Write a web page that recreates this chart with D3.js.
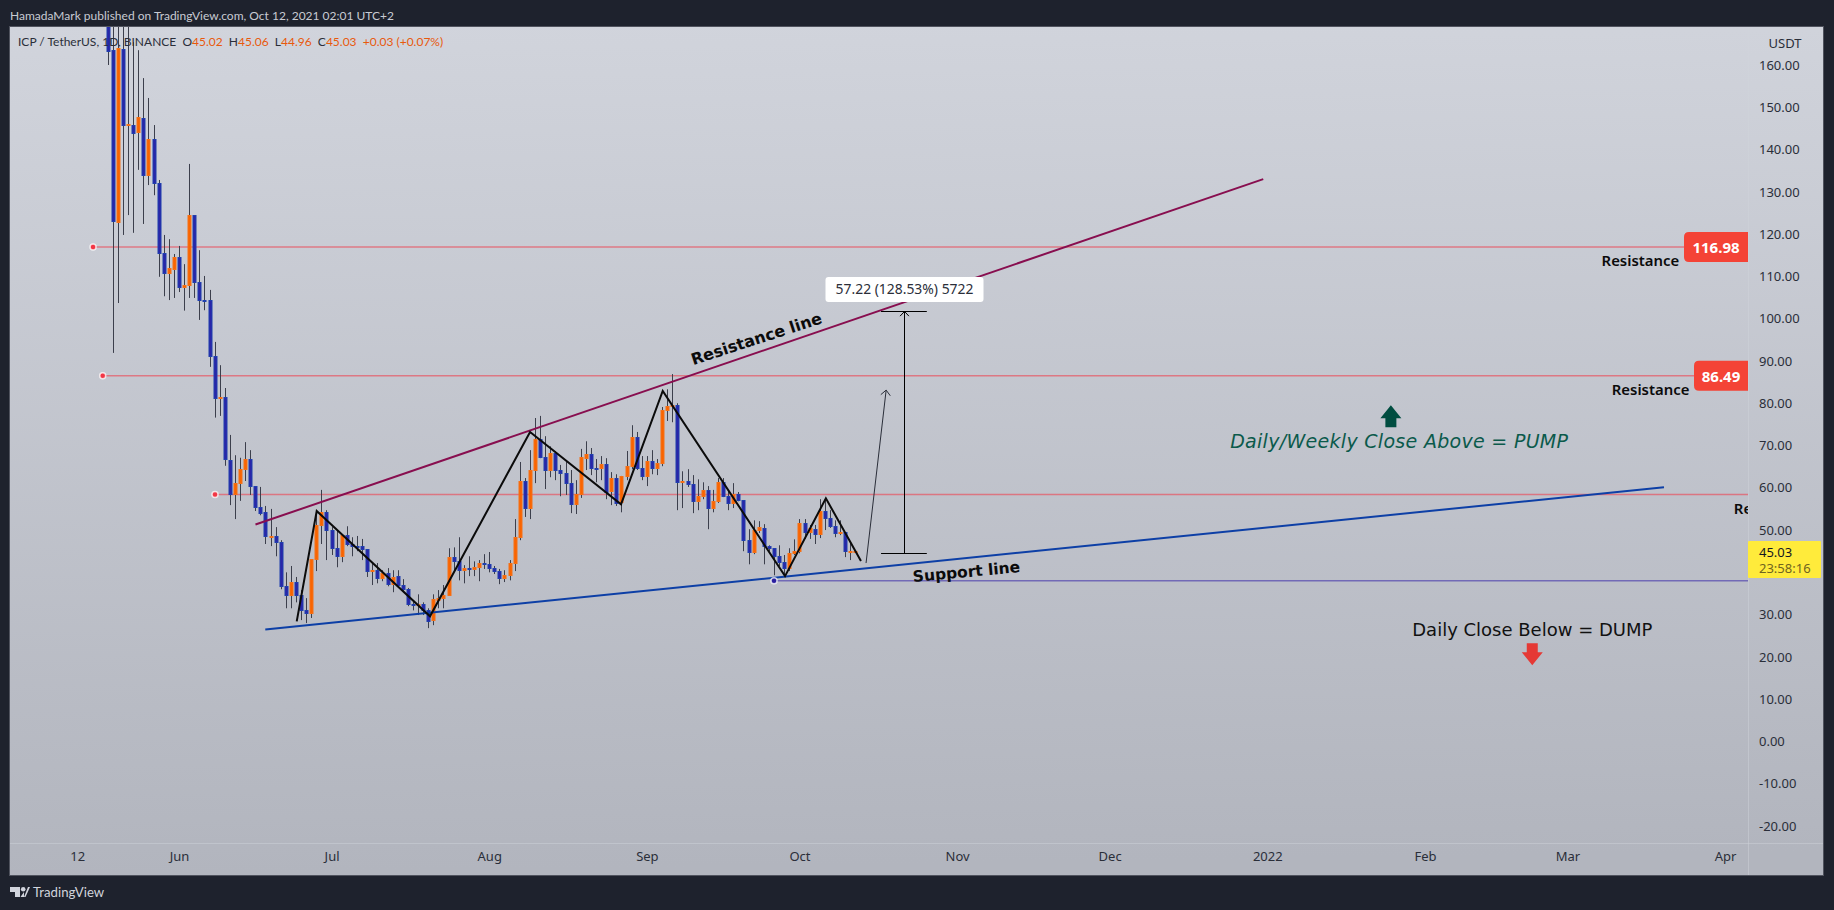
<!DOCTYPE html>
<html><head><meta charset="utf-8">
<script src="https://cdn.jsdelivr.net/npm/d3@7"></script>
<style>html,body{margin:0;padding:0;background:#1e222d;overflow:hidden}svg{display:block}</style>
</head><body><svg id="c" width="1834" height="910"></svg>
<script>
// ---- data ----
const firstCandle = "2021-05-18";
const opens = [190,163.5,122.7,163.8,145.6,145.8,143.7,147.5,133.7,142.5,
132.1,115.5,110.6,111.5,114.6,107.2,107.7,124.5,108.6,104.4,
104.4,91.2,81.0,81.4,66.5,58.3,60.9,64.2,66.8,60.4,
55.4,54.2,48.3,48.6,47.1,36.7,34.4,37.7,34.6,31.0,
30.1,42.9,50.9,54.2,50.0,45.7,43.6,48.8,46.7,46.2,
46.2,45.5,40.0,40.5,38.4,39.8,37.0,39.1,37.0,36.0,
32.5,32.0,32.5,31.0,28.4,33.2,33.6,34.4,43.6,42.6,
40.3,41.0,40.5,41.0,42.2,41.9,41.0,40.3,38.4,39.1,
41.9,48.1,61.6,55.0,63.9,71.5,67.3,63.9,68.2,64.2,
63.5,61.1,55.9,58.3,66.8,68.0,64.7,64.4,65.6,59.0,
62.3,56.4,62.5,64.9,72.0,64.7,62.5,66.3,64.4,65.6,
78.1,79.1,79.6,61.1,61.6,60.9,56.6,57.8,59.5,55.0,
56.6,61.3,58.0,56.1,58.5,57.1,47.6,44.5,49.8,50.5,
46.2,45.7,43.8,42.4,40.8,44.3,44.8,51.6,49.3,50.2,
48.8,54.5,52.8,51.0,49.1,49.5,44.8,45.02];
const highs = [210,200,190,190,175,165.4,163.5,156.9,152.2,145.8,
132.8,119.8,118.8,115.3,117.2,112.9,136.6,124.5,116.2,110.1,
106.8,94.5,89.0,83.6,72.5,67.7,67.1,70.8,68.9,60.4,
60.2,55.7,55.0,50.7,47.6,40.0,41.5,38.9,35.8,33.9,
43.1,54.7,59.5,54.7,50.7,49.8,48.8,50.9,48.3,48.6,
47.9,45.5,42.4,42.2,40.5,41.0,40.5,40.5,38.4,36.3,
33.4,34.8,32.9,31.5,34.8,35.8,37.0,45.7,45.9,48.3,
41.7,43.8,42.6,42.9,44.3,44.8,41.5,40.8,40.5,42.9,
52.6,66.1,62.3,68.9,76.5,77.0,72.2,69.8,68.7,65.4,
66.1,64.2,61.8,69.2,71.0,69.4,66.8,67.5,67.0,63.7,
63.2,62.8,68.7,74.8,73.2,67.5,67.5,68.9,66.8,79.1,
83.3,86.9,80.0,63.9,64.4,63.0,62.0,61.3,60.4,59.5,
62.3,62.3,59.5,61.1,59.0,57.1,50.2,52.3,52.1,51.4,
46.4,45.7,46.4,44.1,45.7,47.8,52.6,52.6,51.2,51.2,
57.3,57.3,54.7,52.3,52.3,49.5,47.1,45.06];
const lows = [160.0,91.9,103.7,119.8,124.5,120.3,135.2,122.4,131.6,129.2,
109.9,105.3,104.4,104.9,106.3,101.9,104.9,104.9,99.7,102.0,
88.6,76.6,77.0,65.2,55.9,52.6,56.9,61.6,58.3,54.5,
53.5,46.7,46.2,43.8,36.0,31.5,31.5,32.9,28.7,28.0,
29.2,40.3,46.7,42.9,44.1,41.2,42.4,46.2,43.8,45.0,
42.9,38.9,37.0,37.4,37.9,36.7,35.3,36.5,35.6,32.0,
31.0,29.9,29.9,26.8,27.5,31.5,31.5,34.4,40.5,38.1,
37.4,39.1,39.1,37.9,40.8,40.0,39.6,37.2,37.7,38.1,
40.3,47.6,53.1,52.6,61.1,67.0,59.7,62.5,61.8,58.0,
58.3,54.0,53.8,57.6,64.2,63.0,61.3,61.8,57.3,55.9,
55.7,54.2,61.8,64.4,64.2,61.8,60.4,63.2,63.0,65.1,
75.8,75.5,54.7,55.2,60.2,54.0,54.7,57.3,50.2,54.2,
56.4,57.8,54.7,55.2,56.8,45.0,41.9,44.3,49.3,41.9,
45.0,39.3,41.5,39.3,40.3,44.1,44.5,47.9,47.9,46.7,
48.1,50.0,50.5,48.3,48.8,43.6,42.9,44.96];
const closes = [163.1,122.7,164.0,145.6,146.0,143.7,147.6,133.7,142.5,131.8,
115.3,110.6,112.0,114.6,107.2,107.9,124.5,108.4,104.2,104.2,
91.0,81.0,81.4,66.4,58.3,61.1,64.4,66.8,60.2,55.2,
53.8,48.3,48.6,46.9,36.5,34.4,37.7,34.4,30.8,30.1,
43.1,51.2,54.2,49.8,45.5,43.6,48.8,46.4,45.9,45.9,
45.2,40.0,40.5,38.4,39.8,37.0,38.9,36.7,35.8,32.2,
32.0,32.5,30.8,28.2,33.6,33.9,34.6,43.6,42.4,40.3,
41.0,40.5,41.2,42.2,41.7,40.8,40.0,38.4,39.3,42.2,
48.3,61.6,55.0,64.2,71.5,67.0,63.9,68.2,63.9,63.2,
60.9,55.9,58.5,67.3,68.0,64.4,64.4,65.6,58.7,62.3,
56.1,62.8,65.1,72.0,64.4,62.5,66.3,64.4,65.8,78.4,
79.3,79.6,61.1,61.6,60.6,56.6,58.0,59.5,55.0,56.8,
61.3,57.8,56.1,58.5,56.8,47.4,44.5,50.0,50.7,46.0,
45.5,43.6,42.2,40.8,44.5,45.0,51.6,49.3,50.5,48.8,
54.5,52.6,50.7,49.1,49.5,44.8,45.0,45.03];

const priceTicks = [160,150,140,130,120,110,100,90,80,70,60,50,30,20,10,0,-10,-20];
const timeTicks = ["2021-05-12","2021-06-01","2021-07-01","2021-08-01","2021-09-01","2021-10-01","2021-11-01","2021-12-01","2022-01-01","2022-02-01","2022-03-01","2022-04-01"];
const timeLabels = ["12","Jun","Jul","Aug","Sep","Oct","Nov","Dec","2022","Feb","Mar","Apr"];

// drawings: [days after 2021-06-01, price]
const resistanceTrend = [[15.04,51.3],[213.2,133.0]];
const supportTrend = [[16.97,26.5],[292.0,60.15]];
const zigzag = [[23.15,28.4],[27.08,54.5],[49.36,29.6],[69.03,73.2],[86.92,56.1],[95.12,82.9],[119.17,39.1],[127.2,57.5],[134.1,42.7]];
const projection = [[135.1,42.2],[139.05,83.1]];
const measure = {day:142.6, from:44.5, to:101.72, d0:138.05, d1:147.05};
const levels = [
 {day:-16.9, price:116.98, tag:"116.98", label:"Resistance", labelEndDay:295},
 {day:-15.0, price:86.49, tag:"86.49", label:"Resistance", labelEndDay:297},
 {day:7.08, price:58.4, tag:null, label:"Resistance", labelEndDay:321}
];
const supportLevel = {day:117.0, price:38.0};

// ---- layout ----
const F = {l:10,t:27,r:1823,b:875,axisX:1748,axisY:843};
const svg = d3.select("#c");
const base = Date.UTC(2021,5,1);
const dayDate = d => new Date(base + d*864e5);
const x = d3.scaleUtc().domain([new Date("2021-06-01"),new Date("2022-04-01")]).range([179,1725]);
const y = d3.scaleLinear().domain([160,-20]).range([65,826]);
const px = d => x(dayDate(d));
const line = d3.line().x(p=>px(p[0])).y(p=>y(p[1]));

const defs = svg.append("defs");
const grad = defs.append("linearGradient").attr("id","bg").attr("x1",0).attr("x2",0.03).attr("y1",0).attr("y2",1);
grad.append("stop").attr("offset",0).attr("stop-color","#d1d4dc");
grad.append("stop").attr("offset",1).attr("stop-color","#b2b5be");
defs.append("clipPath").attr("id","pane").append("rect").attr("x",F.l).attr("y",F.t).attr("width",F.axisX-F.l).attr("height",F.axisY-F.t);

svg.append("rect").attr("width",1834).attr("height",910).attr("fill","#1e222d");
svg.append("rect").attr("x",F.l-.5).attr("y",F.t-.5).attr("width",F.r-F.l+1).attr("height",F.b-F.t+1)
  .attr("fill","url(#bg)").attr("stroke","#50535e").attr("stroke-width",1);
svg.append("line").attr("x1",F.axisX+.5).attr("x2",F.axisX+.5).attr("y1",F.t).attr("y2",F.b).attr("stroke","#d1d4dc").attr("stroke-opacity",.45);
svg.append("line").attr("x1",F.l).attr("x2",F.r).attr("y1",F.axisY+.5).attr("y2",F.axisY+.5).attr("stroke","#d1d4dc").attr("stroke-opacity",.45);

const UI = "'Noto Sans',sans-serif", LT = "Lato,sans-serif", DV = "'DejaVu Sans',sans-serif";
svg.append("text").attr("x",10).attr("y",20).attr("font-family",LT).attr("font-size",12).attr("fill","#c8cbd3")
  .text("HamadaMark published on TradingView.com, Oct 12, 2021 02:01 UTC+2");

const pane = svg.append("g").attr("clip-path","url(#pane)");

// horizontal levels
const levelG = pane.append("g");
levelG.selectAll("line").data(levels).join("line")
  .attr("x1",d=>px(d.day)).attr("x2",F.axisX).attr("y1",d=>y(d.price)).attr("y2",d=>y(d.price))
  .attr("stroke","#f23645").attr("stroke-opacity",.55).attr("stroke-width",1.5);
levelG.append("line").attr("x1",px(supportLevel.day)).attr("x2",F.axisX).attr("y1",y(supportLevel.price)).attr("y2",y(supportLevel.price))
  .attr("stroke","#5a4db0").attr("stroke-opacity",.75).attr("stroke-width",1.5);

// candles
const candles = opens.map((o,i)=>({date:d3.utcDay.offset(new Date(firstCandle),i),o,h:highs[i],l:lows[i],c:closes[i]}));
const cg = pane.selectAll("g.k").data(candles).join("g").attr("class","k");
cg.append("line").attr("x1",d=>Math.round(x(d.date))+.5).attr("x2",d=>Math.round(x(d.date))+.5)
  .attr("y1",d=>y(d.h)).attr("y2",d=>y(d.l)).attr("stroke","#3c3f4c").attr("stroke-width",1);
cg.append("rect").attr("x",d=>Math.round(x(d.date))-1).attr("width",3)
  .attr("y",d=>Math.round(y(Math.max(d.o,d.c)))+.5)
  .attr("height",d=>Math.max(1,Math.round(Math.abs(y(d.o)-y(d.c)))-1))
  .attr("fill",d=>d.c>=d.o?"#f96400":"#2a25a8")
  .attr("stroke",d=>d.c>=d.o?"#f57016":"#1f3fae").attr("stroke-width",1);

// trend lines
pane.append("path").attr("d",line(resistanceTrend)).attr("fill","none").attr("stroke","#880e4f").attr("stroke-width",2);
pane.append("path").attr("d",line(supportTrend)).attr("fill","none").attr("stroke","#0d3fa6").attr("stroke-width",2);
pane.append("path").attr("d",line(zigzag)).attr("fill","none").attr("stroke","#0b0b0b").attr("stroke-width",2).attr("stroke-linejoin","miter");
pane.append("path").attr("d",line(projection)).attr("fill","none").attr("stroke","#2a2e39").attr("stroke-width",1);

function chevron(g,tx,ty,fx,fy,len,col){
  const a=Math.atan2(fy-ty,fx-tx), s=.75;
  g.append("path").attr("d",`M${tx+len*Math.cos(a+s)},${ty+len*Math.sin(a+s)}L${tx},${ty}L${tx+len*Math.cos(a-s)},${ty+len*Math.sin(a-s)}`)
   .attr("fill","none").attr("stroke",col).attr("stroke-width",1);
}
chevron(pane,px(projection[1][0]),y(projection[1][1]),px(projection[0][0]),y(projection[0][1]),7,"#2a2e39");

// measure tool
const mx=Math.round(px(measure.day))+.5;
pane.append("line").attr("x1",mx).attr("x2",mx).attr("y1",y(measure.from)).attr("y2",y(measure.to)).attr("stroke","#000").attr("stroke-width",1);
[measure.from,measure.to].forEach(v=>pane.append("line").attr("x1",px(measure.d0)).attr("x2",px(measure.d1))
  .attr("y1",Math.round(y(v))+.5).attr("y2",Math.round(y(v))+.5).attr("stroke","#000").attr("stroke-width",1));
chevron(pane,mx,y(measure.to),mx,y(measure.from),6.5,"#000");
pane.append("rect").attr("x",mx-79).attr("y",y(measure.to)-34.5).attr("width",158).attr("height",25).attr("rx",3).attr("fill","#fff");
pane.append("text").attr("x",mx).attr("y",y(measure.to)-17).attr("text-anchor","middle").attr("font-family",UI).attr("font-size",13.9).attr("fill","#2a2e39")
  .text("57.22 (128.53%) 5722");

// anchor dots
const dots = levels.map(d=>({day:d.day,price:d.price,c:"#f23645"})).concat([{...supportLevel,c:"#2a1fa0"}]);
pane.selectAll("circle.h").data(dots).join("circle").attr("class","h").attr("cx",d=>px(d.day)).attr("cy",d=>y(d.price)).attr("r",3)
  .attr("fill",d=>d.c).attr("stroke","#fff").attr("stroke-opacity",.75).attr("stroke-width",1.5);

// annotation texts
pane.selectAll("text.res").data(levels).join("text").attr("class","res")
  .attr("x",d=>px(d.labelEndDay)).attr("y",d=>y(d.price)+19).attr("text-anchor","end")
  .attr("font-family",UI).attr("font-size",14.9).attr("font-weight",600).attr("fill","#0b0b0b").text(d=>d.label);

const rot=(xx,yy,a)=>`translate(${xx},${yy}) rotate(${a})`;
pane.append("text").attr("transform",rot(px(101.1),y(89.0),-18)).attr("font-family",DV).attr("font-size",16).attr("font-weight",700).attr("fill","#0b0b0b").text("Resistance line");
pane.append("text").attr("transform",rot(px(144.4),y(37.7),-5.3)).attr("font-family",DV).attr("font-size",15.5).attr("font-weight",700).attr("fill","#0b0b0b").text("Support line");
pane.append("text").attr("x",px(206.7)).attr("y",y(69.5)).attr("font-family",DV).attr("font-size",19).attr("letter-spacing",.3).attr("font-style","italic").attr("fill","#0b5a4b").text("Daily/Weekly Close Above = PUMP");
pane.append("text").attr("x",px(242.5)).attr("y",y(24.9)).attr("font-family",DV).attr("font-size",18).attr("fill","#111").text("Daily Close Below = DUMP");

function bigArrow(cx,tipY,dir,col){
  const w=10.5,s=5.5,h=13*dir,t=22*dir;
  pane.append("path").attr("d",`M${cx},${tipY}L${cx+w},${tipY+h}L${cx+s},${tipY+h}L${cx+s},${tipY+t}L${cx-s},${tipY+t}L${cx-s},${tipY+h}L${cx-w},${tipY+h}Z`).attr("fill",col);
}
bigArrow(px(238.3),y(79.5),1,"#004d40");
bigArrow(px(266.1),y(18),-1,"#e53935");

// price tags
const tags = levels.filter(d=>d.tag);
const tagW = d=>d.tag.length>5?64:54;
svg.selectAll("path.tag").data(tags).join("path").attr("class","tag")
  .attr("d",d=>{const r=5,x1=F.axisX,x0=x1-tagW(d),y0=y(d.price)-15,y1=y(d.price)+15;
    return `M${x1},${y0}H${x0+r}Q${x0},${y0} ${x0},${y0+r}V${y1-r}Q${x0},${y1} ${x0+r},${y1}H${x1}Z`;}).attr("fill","#f44336");
svg.selectAll("text.tag").data(tags).join("text").attr("class","tag")
  .attr("x",d=>F.axisX-tagW(d)/2).attr("y",d=>y(d.price)+6).attr("text-anchor","middle")
  .attr("font-family",UI).attr("font-size",15).attr("font-weight",700).attr("fill","#fff").text(d=>d.tag);

// axes
const yAxis = d3.axisRight(y).tickValues(priceTicks).tickSize(0).tickPadding(0).tickFormat(d=>d3.format(".2f")(d).replace("\u2212","-"));
const yg = svg.append("g").attr("transform",`translate(${F.axisX+11},0)`).call(yAxis);
const xAxis = d3.axisBottom(x).tickValues(timeTicks.map(d=>new Date(d))).tickSize(0).tickPadding(0).tickFormat((d,i)=>timeLabels[i]);
const xg = svg.append("g").attr("transform",`translate(0,${F.axisY+9})`).call(xAxis);
[yg,xg].forEach(g=>{g.select(".domain").remove();g.selectAll("text").attr("font-family",UI).attr("font-size",13).attr("fill","#2a2e39");});
svg.append("text").attr("x",1801.5).attr("y",48).attr("text-anchor","end").attr("font-family",UI).attr("font-size",13).attr("fill","#2a2e39").text("USDT");

// last price
svg.append("rect").attr("x",F.axisX).attr("y",541).attr("width",73).attr("height",37).attr("rx",1).attr("fill","#ffeb3b");
svg.append("text").attr("x",1759).attr("y",557).attr("font-family",UI).attr("font-size",13).attr("fill","#131722").text("45.03");
svg.append("text").attr("x",1759).attr("y",573).attr("font-family",UI).attr("font-size",13).attr("fill","#6f6420").text("23:58:16");

// legend
const legend = svg.append("text").attr("x",18).attr("y",46).attr("font-family",LT).attr("font-size",12).attr("fill","#2a2e39").attr("xml:space","preserve");
const ORG="#e8590c";
[["ICP / TetherUS, 1D, BINANCE  O"],["45.02",ORG],["  H"],["45.06",ORG],["  L"],["44.96",ORG],["  C"],["45.03",ORG],["  "],["+0.03 (+0.07%)",ORG]]
 .forEach(([t,c])=>legend.append("tspan").attr("fill",c||"#2a2e39").text(t));

// footer logo
const logo = svg.append("g").attr("fill","#d1d4dc");
logo.append("path").attr("d","M10 887H20V897H15V892H10Z");
logo.append("circle").attr("cx",23.2).attr("cy",889.3).attr("r",2.3);
logo.append("path").attr("d","M24 897L28 887H30L25.5 897Z M24 897H20.5L24 892Z");
svg.append("text").attr("x",33).attr("y",897).attr("font-family",LT).attr("font-size",13.2).attr("fill","#d1d4dc").text("TradingView");
</script></body></html>
